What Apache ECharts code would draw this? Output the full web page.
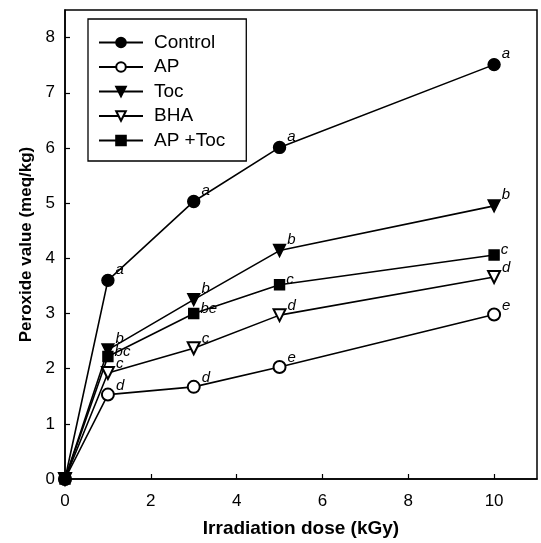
<!DOCTYPE html>
<html>
<head>
<meta charset="utf-8">
<script src="https://cdn.jsdelivr.net/npm/echarts@6/dist/echarts.min.js"></script>
<style>
html,body{margin:0;padding:0;background:#fff;}
#chart{width:541px;height:543px;}
</style>
</head>
<body>
<div id="chart"></div>
<script>
// Data
var doses = [0, 1, 3, 5, 10];
var seriesNames = ['Control', 'AP', 'Toc', 'BHA', 'AP +Toc'];
var controlValues = [0, 3.60, 5.03, 6.01, 7.51];
var apValues      = [0, 1.53, 1.67, 2.03, 2.98];
var tocValues     = [0, 2.34, 3.25, 4.14, 4.95];
var bhaValues     = [0, 1.92, 2.37, 2.97, 3.66];
var apTocValues   = [0, 2.22, 3.00, 3.52, 4.06];
var controlLetters = ['', 'a', 'a', 'a', 'a'];
var apLetters      = ['', 'd', 'd', 'e', 'e'];
var tocLetters     = ['', 'b', 'b', 'b', 'b'];
var bhaLetters     = ['', 'c', 'c', 'd', 'd'];
var apTocLetters   = ['', 'bc', 'be', 'c', 'c'];
var xTicks = [0, 2, 4, 6, 8, 10];
var yTicks = [0, 1, 2, 3, 4, 5, 6, 7, 8];

var FONT = '"Liberation Sans", Arial, sans-serif';

function pts(vals, letters) {
  return doses.map(function (d, i) {
    return { value: [d, vals[i]], letter: letters[i] };
  });
}

function makeSeries(name, vals, letters, symbol, rotate, size, offsetY) {
  return {
    name: name,
    type: 'line',
    data: pts(vals, letters),
    symbol: symbol,
    symbolSize: size,
    symbolRotate: rotate,
    showAllSymbol: true,
    lineStyle: { color: '#000', width: 1.6 },
    itemStyle: { color: '#000', borderColor: '#000', borderWidth: 1.4 },
    label: {
      show: true,
      position: 'right',
      distance: 1,
      offset: [0, offsetY],
      formatter: function (p) { return p.data.letter; },
      fontFamily: FONT,
      fontStyle: 'italic',
      fontSize: 15,
      color: '#000'
    },
    emphasis: { disabled: true },
    animation: false,
    z: 2
  };
}

var chart = echarts.init(document.getElementById('chart'), null, { renderer: 'canvas' });
chart.setOption({
  backgroundColor: '#fff',
  animation: false,
  grid: {
    left: 65, right: 4, top: 10, bottom: 61,
    show: true, borderColor: '#000', borderWidth: 1.5, backgroundColor: 'transparent'
  },
  legend: {
    left: 88, top: 19,
    orient: 'vertical',
    data: seriesNames,
    itemWidth: 44, itemHeight: 12,
    itemGap: 5.5,
    padding: [14, 21, 11, 10],
    borderColor: '#000', borderWidth: 1.3,
    backgroundColor: '#fff',
    symbolRotate: 'inherit',
    textStyle: { fontFamily: FONT, fontSize: 19, color: '#000', padding: [0, 0, 0, 6] },
    selectedMode: false
  },
  xAxis: {
    type: 'value', min: 0, max: 11,
    name: 'Irradiation dose (kGy)', nameLocation: 'middle', nameGap: 40,
    nameTextStyle: { fontFamily: FONT, fontWeight: 'bold', fontSize: 19, color: '#000' },
    axisLine: { show: true, onZero: false, lineStyle: { color: '#000', width: 1.5 } },
    axisTick: { show: true, inside: true, length: 5, customValues: xTicks, lineStyle: { color: '#000', width: 1.2 } },
    axisLabel: { customValues: xTicks, fontFamily: FONT, fontSize: 17, color: '#000', margin: 14 },
    splitLine: { show: false }
  },
  yAxis: {
    type: 'value', min: 0, max: 8.5,
    name: 'Peroxide value (meq/kg)', nameLocation: 'middle', nameGap: 30,
    nameTextStyle: { fontFamily: FONT, fontWeight: 'bold', fontSize: 17, color: '#000' },
    axisLine: { show: true, onZero: false, lineStyle: { color: '#000', width: 1.5 } },
    axisTick: { show: true, inside: true, length: 5, customValues: yTicks, lineStyle: { color: '#000', width: 1.2 } },
    axisLabel: { customValues: yTicks, fontFamily: FONT, fontSize: 17, color: '#000', margin: 10 },
    splitLine: { show: false }
  },
  series: [
    makeSeries('Control', controlValues, controlLetters, 'circle', 0, 12, -11),
    makeSeries('AP', apValues, apLetters, 'emptyCircle', 0, 12, -9),
    makeSeries('Toc', tocValues, tocLetters, 'triangle', 180, 12, -11),
    makeSeries('BHA', bhaValues, bhaLetters, 'emptyTriangle', 180, 12, -9),
    makeSeries('AP +Toc', apTocValues, apTocLetters, 'rect', 0, 10, -5)
  ]
});
</script>
</body>
</html>
